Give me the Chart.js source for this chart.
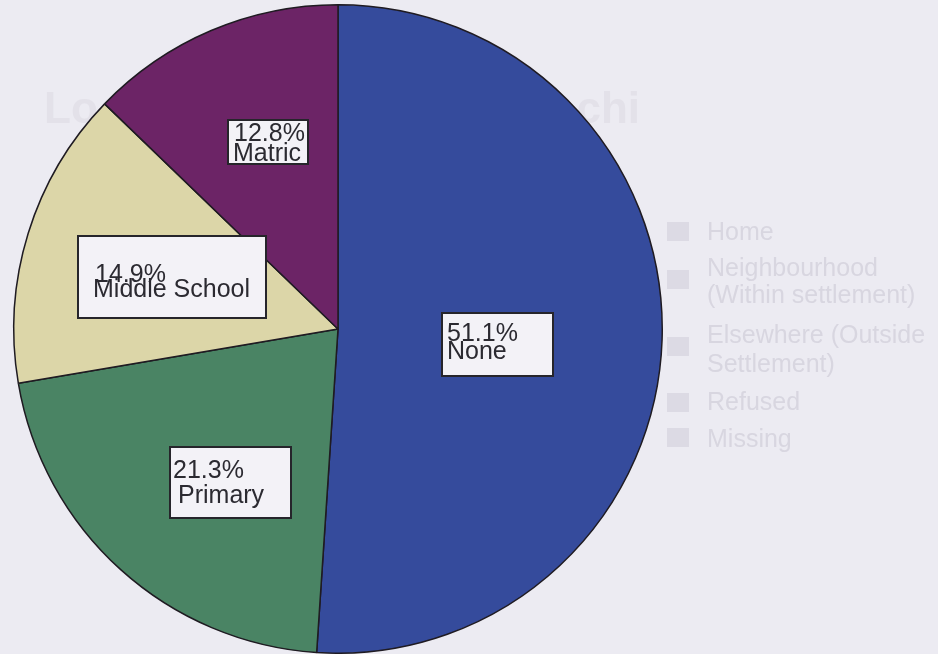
<!DOCTYPE html>
<html>
<head>
<meta charset="utf-8">
<script src="https://cdn.jsdelivr.net/npm/chart.js@4.4.1/dist/chart.umd.min.js"></script>
<style>
  html, body { margin: 0; padding: 0; background: #ecebf2; }
  #wrap { width: 938px; height: 654px; }
</style>
</head>
<body>
<div id="wrap"><canvas id="myChart" width="938" height="654"></canvas></div>
<script>
// education level shares, clockwise from 12 o'clock
var categories = ["None", "Primary", "Middle School", "Matric"];
var shares = [51.1, 21.3, 14.9, 12.8];
var sliceColors = ["#354b9c", "#4a8464", "#dcd6a8", "#6c2466"];

// faint print-through from the facing page
var ghostLegend = ["Home", "Neighbourhood|(Within settlement)", "Elsewhere (Outside|Settlement)", "Refused", "Missing"];

// label box placement relative to each slice's mid point (half radius)
var boxLayout = [
  { dx: -58, dy: -21, w: 111, h: 63, px: 5, py: 28, lx: 5, ly: 46 },
  { dx: -59, dy: -2, w: 121, h: 71, px: 3, py: 31, lx: 8, ly: 56 },
  { dx: -105, dy: -45, w: 188, h: 82, px: 17, py: 46, lx: 15, ly: 61 },
  { dx: -47, dy: -60, w: 80, h: 44, px: 6, py: 21, lx: 5, ly: 41 }
];

var ghostText = {
  id: 'ghostText',
  beforeDraw: function(chart) {
    var c = chart.ctx;
    c.save();
    c.fillStyle = '#ecebf2';
    c.fillRect(0, 0, chart.width, chart.height);
    c.fillStyle = '#e3e1e9';
    c.font = 'bold 44px "Liberation Sans", Arial, sans-serif';
    c.textBaseline = 'alphabetic';
    c.fillText('Lo', 44, 123);
    c.textAlign = 'right';
    c.fillText('chi', 640, 123);
    c.textAlign = 'left';
    c.font = '25px "Liberation Sans", Arial, sans-serif';
    var rows = [
      { sy: 222, ty: [240] },
      { sy: 270, ty: [276, 303] },
      { sy: 337, ty: [343, 372] },
      { sy: 393, ty: [410] },
      { sy: 428, ty: [447] }
    ];
    ghostLegend.forEach(function(item, k) {
      var lines = item.split('|');
      c.fillStyle = '#dcdae4';
      c.fillRect(667, rows[k].sy, 22, 19);
      c.fillStyle = '#d8d6e0';
      lines.forEach(function(line, i) {
        c.fillText(line, 707, rows[k].ty[i]);
      });
    });
    c.restore();
  }
};

var sliceLabels = {
  id: 'sliceLabels',
  afterDatasetsDraw: function(chart) {
    var c = chart.ctx;
    var arcs = chart.getDatasetMeta(0).data;
    c.save();
    c.font = '25px "Liberation Sans", Arial, sans-serif';
    c.textBaseline = 'alphabetic';
    arcs.forEach(function(arc, i) {
      var p = arc.getProps(['x', 'y', 'startAngle', 'endAngle', 'outerRadius'], true);
      var mid = (p.startAngle + p.endAngle) / 2;
      var ax = p.x + Math.cos(mid) * p.outerRadius * 0.5;
      var ay = p.y + Math.sin(mid) * p.outerRadius * 0.5;
      var b = boxLayout[i];
      var bx = Math.round(ax + b.dx), by = Math.round(ay + b.dy);
      c.fillStyle = '#f3f2f7';
      c.fillRect(bx, by, b.w, b.h);
      c.lineWidth = 2;
      c.strokeStyle = '#26252b';
      c.strokeRect(bx, by, b.w, b.h);
      c.fillStyle = '#2b2a31';
      c.fillText(shares[i].toFixed(1) + '%', bx + b.px, by + b.py);
      c.fillText(categories[i], bx + b.lx, by + b.ly);
    });
    c.restore();
  }
};

var ctx = document.getElementById("myChart").getContext('2d');
var myChart = new Chart(ctx, {
  type: 'pie',
  data: {
    labels: categories,
    datasets: [{
      data: shares,
      backgroundColor: sliceColors,
      borderColor: '#1f1b22',
      borderWidth: 1.5
    }]
  },
  options: {
    responsive: false,
    animation: false,
    layout: { padding: { left: 10, right: 272, top: 4, bottom: 0 } },
    plugins: {
      legend: { display: false },
      tooltip: { enabled: false }
    }
  },
  plugins: [ghostText, sliceLabels]
});
</script>
</body>
</html>
